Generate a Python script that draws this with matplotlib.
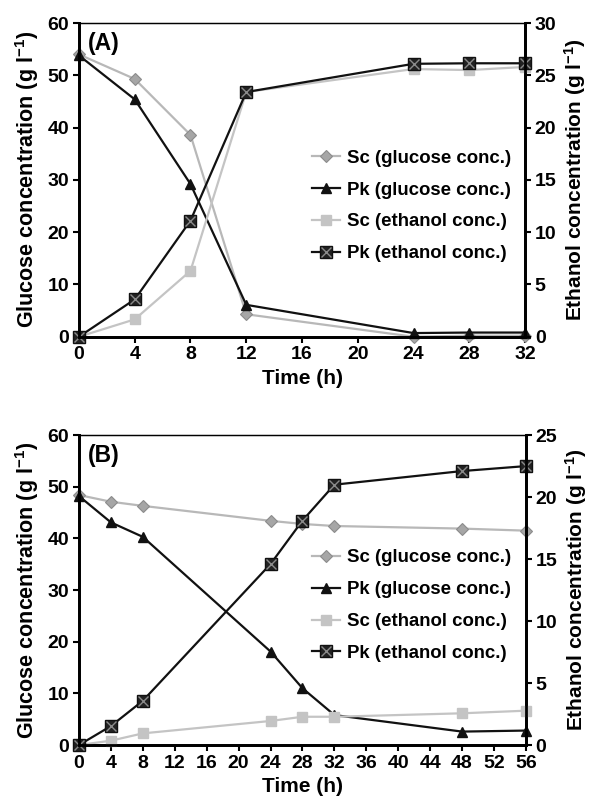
import matplotlib
matplotlib.use('Agg')
import matplotlib.pyplot as plt

plt.rcParams['font.family'] = ['Liberation Sans', 'DejaVu Sans']
plt.rcParams['font.weight'] = 'bold'
plt.rcParams['mathtext.fontset'] = 'custom'
plt.rcParams['mathtext.rm'] = 'Liberation Sans:bold'
plt.rcParams['mathtext.default'] = 'rm'

# panel A
t_a = [0, 4, 8, 12, 24, 28, 32]
sc_glc_a = [54.0, 49.3, 38.6, 4.3, 0.0, 0.2, 0.2]
pk_glc_a = [53.8, 45.4, 29.2, 6.1, 0.7, 0.8, 0.8]
sc_eth_a = [0.0, 1.66, 6.3, 23.4, 25.6, 25.5, 25.8]
pk_eth_a = [0.0, 3.57, 11.1, 23.4, 26.1, 26.15, 26.15]

# panel B
t_b = [0, 4, 8, 24, 28, 32, 48, 56]
sc_glc_b = [48.4, 47.1, 46.3, 43.4, 42.8, 42.4, 41.9, 41.5]
pk_glc_b = [48.2, 43.1, 40.3, 18.1, 11.0, 5.8, 2.6, 2.8]
sc_eth_b = [0.0, 0.35, 0.94, 1.94, 2.28, 2.28, 2.56, 2.77]
pk_eth_b = [0.0, 1.53, 3.57, 14.6, 18.1, 21.0, 22.1, 22.5]

labels = ['Sc (glucose conc.)', 'Pk (glucose conc.)',
          'Sc (ethanol conc.)', 'Pk (ethanol conc.)']

fig = plt.figure(figsize=(5.92, 8.05), dpi=100)


def panel(rect, t, sg, pg, se, pe, xmax, emax, etick, tag, leg_y):
    ax = fig.add_axes(rect)
    ax2 = ax.twinx()
    l1, = ax.plot(t, sg, color='#b8b8b8', lw=1.6, marker='D', ms=6.5,
                  mfc='#a6a6a6', mec='#8c8c8c', mew=0.8, clip_on=False)
    l2, = ax.plot(t, pg, color='#111111', lw=1.6, marker='^', ms=7.5,
                  mfc='#111111', mec='#111111', clip_on=False)
    l3, = ax2.plot(t, se, color='#c4c4c4', lw=1.6, marker='s', ms=7.5,
                   mfc='#c4c4c4', mec='#c4c4c4', clip_on=False)
    l4, = ax2.plot(t, pe, color='#111111', lw=1.6, marker='s', ms=8.5,
                   mfc='#222222', mec='#111111', clip_on=False)
    l4x, = ax2.plot(t, pe, ls='none', marker='x', ms=7.5, mec='#8a8a8a',
                    mew=1.0, clip_on=False)

    ax.set_xlim(0, xmax)
    ax.set_ylim(0, 60)
    ax2.set_ylim(0, emax)
    ax.set_xticks(range(0, xmax + 1, 4))
    ax.set_yticks(range(0, 61, 10))
    ax2.set_yticks(etick)

    for a in (ax, ax2):
        a.spines['top'].set_linewidth(0.9)
        for s in ('left', 'bottom', 'right'):
            a.spines[s].set_linewidth(2.0)
        a.tick_params(direction='out', length=4, width=1.5,
                      labelsize=14, pad=3)
    ax.set_xlabel('Time (h)', fontsize=15, fontweight='bold', labelpad=4)
    ax.set_ylabel(r'Glucose concentration (g l$^{-1}$)', fontsize=15.5,
                  fontweight='bold', labelpad=5)
    ax2.set_ylabel(r'Ethanol concentration (g l$^{-1}$)', fontsize=15,
                   fontweight='bold', labelpad=4)
    ax.text(0.02, 0.97, tag, transform=ax.transAxes, fontsize=16.5,
            fontweight='bold', va='top', ha='left')

    ax2.legend([l1, l2, l3, (l4, l4x)], labels, loc='upper left',
               bbox_to_anchor=(0.485, leg_y), frameon=False,
               prop={'size': 13.4, 'weight': 'bold'}, handlelength=1.5,
               handletextpad=0.38, labelspacing=0.8)


panel([0.1334, 0.5817, 0.7535, 0.3897], t_a, sc_glc_a, pk_glc_a,
      sc_eth_a, pk_eth_a, 32, 30, range(0, 31, 5), '(A)', 0.65)
panel([0.1334, 0.0745, 0.7550, 0.3850], t_b, sc_glc_b, pk_glc_b,
      sc_eth_b, pk_eth_b, 56, 25, range(0, 26, 5), '(B)', 0.686)

fig.savefig('out.png', dpi=100)
